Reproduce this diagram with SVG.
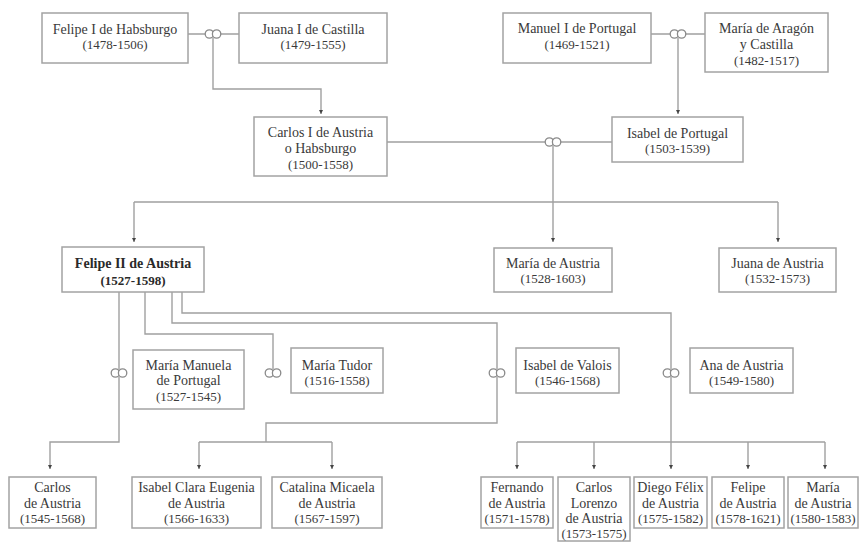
<svg xmlns="http://www.w3.org/2000/svg" width="859" height="542" viewBox="0 0 859 542">
<style>
.box{fill:#fff;stroke:#a3a3a3;stroke-width:1.5}
.t{font-family:"Liberation Serif","Times New Roman",serif;font-size:14px;fill:#3a3a3a;text-anchor:middle}
.d{font-size:13px}
.b{font-weight:bold;fill:#2a2a2a}
.ln{fill:none;stroke:#a0a0a0;stroke-width:1.4}
.ar{marker-end:url(#arr)}
.ring circle{fill:#fff;stroke:#8a8a8a;stroke-width:1.3}
</style>
<defs>
<marker id="arr" markerUnits="userSpaceOnUse" markerWidth="5" markerHeight="5" refX="4" refY="2.5" orient="auto">
<path d="M0,0.5 L4,2.5 L0,4.5 z" fill="#444"/>
</marker>
<g id="ring" class="ring"><circle cx="-3.6" cy="0" r="4.2"/><circle cx="3.6" cy="0" r="4.2"/></g>
</defs>
<rect width="859" height="542" fill="#fff"/>

<g id="connectors">
<path class="ln" d="M188,34 H205 M221,34 H239"/>
<path class="ln ar" d="M213,38 V89 H321 V114"/>
<path class="ln" d="M651,34 H670 M686,34 H705"/>
<path class="ln ar" d="M678,38 V114"/>
<path class="ln" d="M387,142 H545 M561,142 H612"/>
<path class="ln" d="M553,146 V202 M134,202 H778"/>
<path class="ln ar" d="M134,202 V242"/>
<path class="ln ar" d="M553,202 V242"/>
<path class="ln ar" d="M778,202 V242"/>
<path class="ln" d="M119,292 V369"/>
<path class="ln ar" d="M119,377 V442 H50 V469"/>
<path class="ln" d="M145,292 V334 H273 V369"/>
<path class="ln" d="M172,292 V323 H497 V369"/>
<path class="ln" d="M497,377 V423 H266 V442 M199,442 H332"/>
<path class="ln ar" d="M199,442 V469"/>
<path class="ln ar" d="M332,442 V469"/>
<path class="ln" d="M182,292 V313 H671 V369"/>
<path class="ln ar" d="M671,377 V469"/>
<path class="ln" d="M517,442 H825"/>
<path class="ln ar" d="M517,442 V469"/>
<path class="ln ar" d="M594,442 V469"/>
<path class="ln ar" d="M748,442 V469"/>
<path class="ln ar" d="M825,442 V469"/>
<use href="#ring" x="213" y="34"/>
<use href="#ring" x="678" y="34"/>
<use href="#ring" x="553" y="142"/>
<use href="#ring" x="119" y="373"/>
<use href="#ring" x="273" y="373"/>
<use href="#ring" x="497" y="373"/>
<use href="#ring" x="671" y="373"/>
</g>

<g id="felipe1"><rect class="box" x="42" y="13" width="146" height="50"/><text class="t" x="115" y="34">Felipe I de Habsburgo</text><text class="t d" x="115" y="49">(1478-1506)</text></g>
<g id="juana1"><rect class="box" x="239" y="13" width="148" height="50"/><text class="t" x="313" y="34">Juana I de Castilla</text><text class="t d" x="313" y="49">(1479-1555)</text></g>
<g id="manuel1"><rect class="box" x="503" y="13" width="148" height="50"/><text class="t" x="577" y="33">Manuel I de Portugal</text><text class="t d" x="577" y="49">(1469-1521)</text></g>
<g id="mariaaragon"><rect class="box" x="705" y="13" width="123" height="59"/><text class="t" x="766.5" y="33">María de Aragón</text><text class="t" x="766.5" y="49">y Castilla</text><text class="t d" x="766.5" y="65">(1482-1517)</text></g>
<g id="carlos1"><rect class="box" x="254" y="117" width="133" height="59"/><text class="t" x="320.5" y="137">Carlos I de Austria</text><text class="t" x="320.5" y="153">o Habsburgo</text><text class="t d" x="320.5" y="169">(1500-1558)</text></g>
<g id="isabelportugal"><rect class="box" x="612" y="117" width="131" height="45"/><text class="t" x="677.5" y="138">Isabel de Portugal</text><text class="t d" x="677.5" y="153">(1503-1539)</text></g>
<g id="felipe2"><rect class="box" x="62" y="247" width="142" height="45"/><text class="t b" x="133" y="268">Felipe II de Austria</text><text class="t b d" x="133" y="285">(1527-1598)</text></g>
<g id="mariaaustria"><rect class="box" x="494" y="248" width="118" height="44"/><text class="t" x="553" y="268">María de Austria</text><text class="t d" x="553" y="283">(1528-1603)</text></g>
<g id="juanaaustria"><rect class="box" x="719" y="248" width="117" height="44"/><text class="t" x="777.5" y="268">Juana de Austria</text><text class="t d" x="777.5" y="283">(1532-1573)</text></g>
<g id="mariamanuela"><rect class="box" x="133" y="350" width="111" height="59"/><text class="t" x="188.5" y="370">María Manuela</text><text class="t" x="188.5" y="385">de Portugal</text><text class="t d" x="188.5" y="401">(1527-1545)</text></g>
<g id="mariatudor"><rect class="box" x="291" y="348" width="92" height="45"/><text class="t" x="337" y="370">María Tudor</text><text class="t d" x="337" y="385">(1516-1558)</text></g>
<g id="isabelvalois"><rect class="box" x="516" y="348" width="103" height="45"/><text class="t" x="567.5" y="370">Isabel de Valois</text><text class="t d" x="567.5" y="385">(1546-1568)</text></g>
<g id="anaaustria"><rect class="box" x="690" y="348" width="103" height="45"/><text class="t" x="741.5" y="370">Ana de Austria</text><text class="t d" x="741.5" y="385">(1549-1580)</text></g>
<g id="carlosaustria"><rect class="box" x="9" y="477" width="87" height="51"/><text class="t" x="52.5" y="492">Carlos</text><text class="t" x="52.5" y="508">de Austria</text><text class="t d" x="52.5" y="523">(1545-1568)</text></g>
<g id="isabelclara"><rect class="box" x="132" y="477" width="129" height="51"/><text class="t" x="196.5" y="492">Isabel Clara Eugenia</text><text class="t" x="196.5" y="508">de Austria</text><text class="t d" x="196.5" y="523">(1566-1633)</text></g>
<g id="catalina"><rect class="box" x="272" y="477" width="110" height="51"/><text class="t" x="327" y="492">Catalina Micaela</text><text class="t" x="327" y="508">de Austria</text><text class="t d" x="327" y="523">(1567-1597)</text></g>
<g id="fernando"><rect class="box" x="481" y="477" width="72" height="51"/><text class="t" x="517" y="492">Fernando</text><text class="t" x="517" y="508">de Austria</text><text class="t d" x="517" y="523">(1571-1578)</text></g>
<g id="carloslorenzo"><rect class="box" x="558" y="477" width="72" height="64"/><text class="t" x="594" y="492">Carlos</text><text class="t" x="594" y="508">Lorenzo</text><text class="t" x="594" y="523">de Austria</text><text class="t d" x="594" y="538">(1573-1575)</text></g>
<g id="diegofelix"><rect class="box" x="634" y="477" width="73" height="51"/><text class="t" x="670.5" y="492">Diego Félix</text><text class="t" x="670.5" y="508">de Austria</text><text class="t d" x="670.5" y="523">(1575-1582)</text></g>
<g id="felipeaustria"><rect class="box" x="712" y="477" width="72" height="51"/><text class="t" x="748" y="492">Felipe</text><text class="t" x="748" y="508">de Austria</text><text class="t d" x="748" y="523">(1578-1621)</text></g>
<g id="mariaaustria2"><rect class="box" x="788" y="477" width="70" height="51"/><text class="t" x="823" y="492">María</text><text class="t" x="823" y="508">de Austria</text><text class="t d" x="823" y="523">(1580-1583)</text></g>
</svg>
